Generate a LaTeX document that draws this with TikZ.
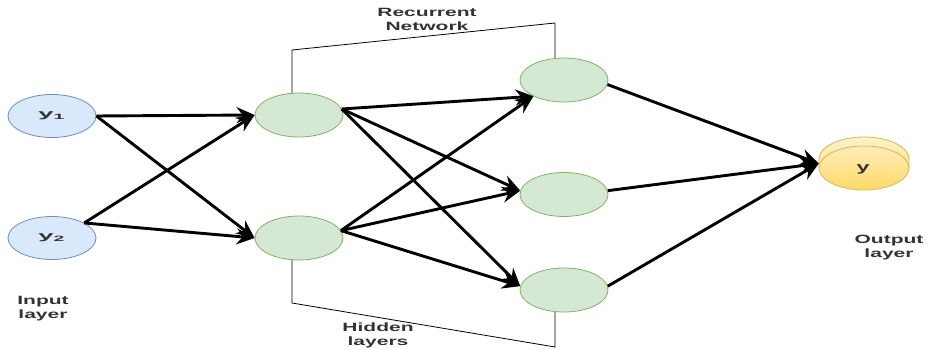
\documentclass[tikz,border=0pt]{standalone}
\usepackage{fontspec}
\setmainfont{Liberation Sans}
\usetikzlibrary{shapes.geometric,arrows.meta}
\definecolor{inFill}{HTML}{DAE8FC}
\definecolor{inLine}{HTML}{6C8EBF}
\definecolor{hidFill}{HTML}{D5E8D4}
\definecolor{hidLine}{HTML}{82B366}
\definecolor{outTop}{HTML}{FFF2CC}
\definecolor{outBot}{HTML}{FFD966}
\definecolor{outLine}{HTML}{D6B656}
\definecolor{txt}{HTML}{333333}
\newcommand{\wideTxt}[2]{\scalebox{#1}[1]{#2}}
\begin{document}
\begin{tikzpicture}[x=1pt,y=1pt,
 inneuron/.style={ellipse, draw=inLine, fill=inFill, line width=0.8pt, minimum width=88pt, minimum height=43pt, inner sep=0pt, text=txt},
 hidneuron/.style={ellipse, draw=hidLine, fill=hidFill, line width=0.8pt, minimum width=88pt, minimum height=44pt, inner sep=0pt},
 link/.style={line width=2.9pt, -{Stealth[length=18pt,width=16pt,inset=6pt]}},
 frameline/.style={line width=0.8pt, draw=black},
 lbl/.style={text=txt, font=\bfseries\fontsize{12}{14}\selectfont, align=center, inner sep=0pt}]
\useasboundingbox (0,0) rectangle (929,350);
% frame of the recurrent network
\draw[frameline] (292,252) -- (292,300) -- (555,327) -- (555,265);
\draw[frameline] (292,96) -- (292,47) -- (555,3) -- (555,45);
% output cylinder
\shade[top color=outTop, bottom color=outBot, draw=outLine, line width=0.8pt]
  (819,191) arc[start angle=180,end angle=0,x radius=45,y radius=22]
  -- (909,182) arc[start angle=0,end angle=-180,x radius=45,y radius=22] -- cycle;
\draw[outLine, line width=0.8pt] (819,182) arc[start angle=180,end angle=0,x radius=45,y radius=22];
% nodes
\node[inneuron] (y1) at (52,234) {\fontsize{11}{13}\selectfont\bfseries\wideTxt{2.5}{y\textsubscript{1}}};
\node[inneuron] (y2) at (52,112) {\fontsize{11}{13}\selectfont\bfseries\wideTxt{2.5}{y\textsubscript{2}}};
\node[hidneuron] (h1) at (299,235) {};
\node[hidneuron] (h2) at (299,112) {};
\node[hidneuron] (t1) at (564,270) {};
\node[hidneuron] (t2) at (564,155.5) {};
\node[hidneuron] (t3) at (564,60) {};
\node[rectangle, minimum width=90pt, minimum height=53pt, inner sep=0pt, text=txt] (out) at (864,186.5) {};
\node[text=txt, inner sep=0pt] (ylab) at (863,181) {\fontsize{13}{15}\selectfont\bfseries\wideTxt{1.8}{y}};
% connectors
\draw[link] (y1.east) -- (h1.west);
\draw[link] (y1.east) -- (h2.west);
\draw[link] (y2.25) -- (h1.west);
\draw[link] (y2.25) -- (h2.west);
\draw[link] (h1.8) -- (t1.208);
\draw[link] (h1.8) -- (t2.175);
\draw[link] (h1.8) -- (t3.175);
\draw[link] (h2.10) -- (t1.208);
\draw[link] (h2.10) -- (t2.175);
\draw[link] (h2.10) -- (t3.175);
\draw[link] (t1.-6) -- (out.west);
\draw[link] (t2.5) -- (out.west);
\draw[link] (t3.5) -- (out.west);
% labels
\node[lbl] (lrec) at (427,331) {\wideTxt{1.75}{Recurrent}\\\wideTxt{1.75}{Network}};
\node[lbl] (lhid) at (378,15) {\wideTxt{1.75}{Hidden}\\\wideTxt{1.75}{layers}};
\node[lbl] (linp) at (43,41) {\wideTxt{1.75}{Input}\\\wideTxt{1.75}{layer}};
\node[lbl] (lout) at (889,102) {\wideTxt{1.75}{Output}\\\wideTxt{1.75}{layer}};
\end{tikzpicture}
\end{document}
